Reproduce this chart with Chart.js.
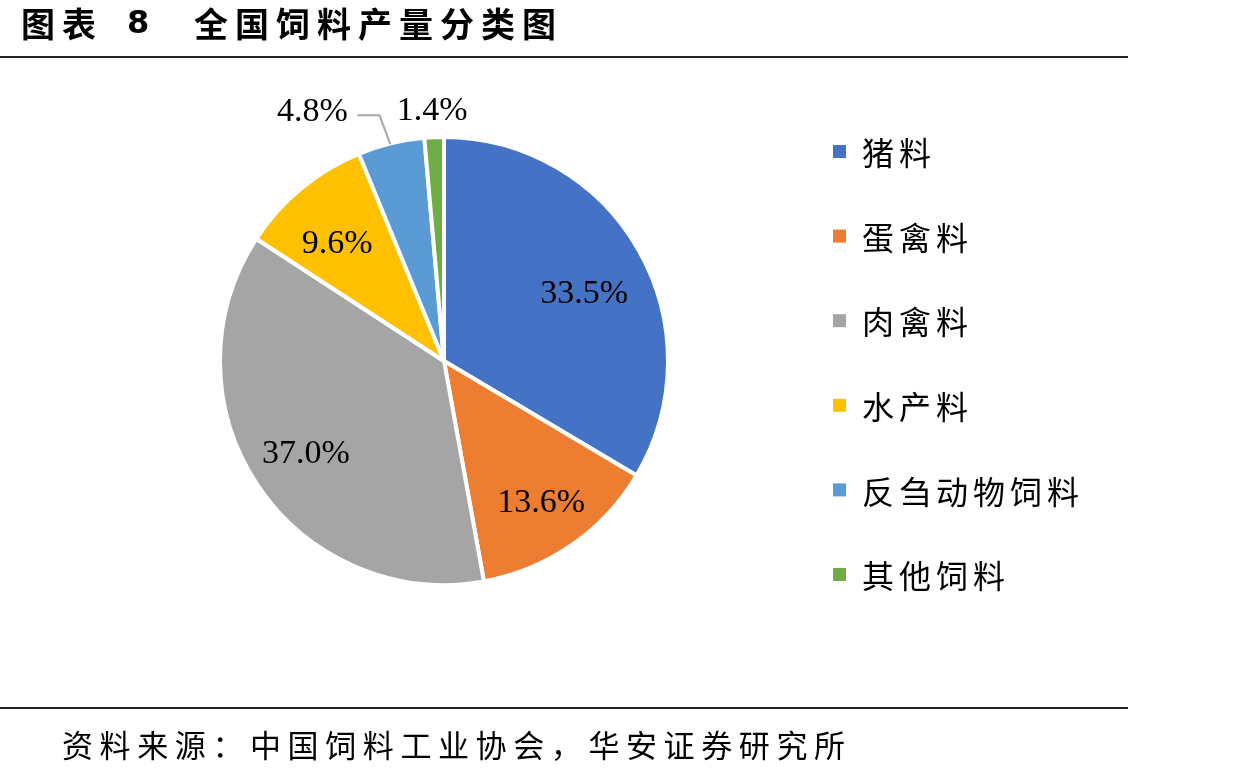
<!DOCTYPE html>
<html><head><meta charset="utf-8">
<script src="https://cdn.jsdelivr.net/npm/chart.js@4"></script>
<style>html,body{margin:0;padding:0;background:#fff;overflow:hidden}</style>
</head><body>
<canvas id="c" width="1237" height="775"></canvas>
<script>
const titleNo = '图表';
const titleNum = '8';
const titleText = '全国饲料产量分类图';
const sourceText = '资料来源：中国饲料工业协会，华安证券研究所';
const categories = ['猪料','蛋禽料','肉禽料','水产料','反刍动物饲料','其他饲料'];
const shares = [33.5, 13.6, 37.0, 9.6, 4.8, 1.4];
const percentLabels = ['33.5%','13.6%','37.0%','9.6%','4.8%','1.4%'];
const colors = ['#4472C4','#ED7D31','#A5A5A5','#FFC000','#5B9BD5','#70AD47'];

// label placement styles (inside: fraction of radius + nudge; outside: offset from arc edge)
const labelStyle = [
  {mode:'in', f:0.70, dx:4, dy:11},
  {mode:'in', f:0.76, dx:0, dy:2},
  {mode:'in', f:0.74, dx:0, dy:1},
  {mode:'in', f:0.72, dx:-4, dy:7},
  {mode:'out', dx:-79, dy:-33, leader:true},
  {mode:'out', dx:-2, dy:-28}
];

const decor = {
  id:'decor',
  afterDraw(chart){
    const ctx = chart.ctx;
    ctx.save();
    // title
    ctx.fillStyle = '#000';
    ctx.textBaseline = 'middle';
    ctx.font = 'bold 34px "Noto Sans CJK SC"';
    ctx.letterSpacing = '7px';
    ctx.fillText(titleNo, 21, 24);
    ctx.fillText(titleText, 194, 24);
    ctx.letterSpacing = '0px';
    ctx.font = 'bold 32px "DejaVu Sans"';
    ctx.fillText(titleNum, 127, 25);
    // rules
    ctx.fillStyle = '#222';
    ctx.fillRect(0, 56, 1128, 2);
    ctx.fillRect(0, 707, 1128, 2);
    // source
    ctx.fillStyle = '#000';
    ctx.font = '31px "Noto Sans CJK SC"';
    ctx.letterSpacing = '6.6px';
    ctx.fillText(sourceText, 62, 745);
    // legend
    ctx.font = '32px "Noto Sans CJK SC"';
    ctx.letterSpacing = '5px';
    categories.forEach((c,i)=>{
      const y = 152 + i*84.6;
      ctx.fillStyle = colors[i];
      ctx.fillRect(833, y-7, 13, 13);
      ctx.fillStyle = '#000';
      ctx.fillText(c, 862, y+1);
    });
    ctx.letterSpacing = '0px';
    // data labels
    const meta = chart.getDatasetMeta(0);
    ctx.font = '34px "Liberation Serif"';
    ctx.textAlign = 'center';
    ctx.fillStyle = '#000';
    meta.data.forEach((arc,i)=>{
      const p = arc.getProps(['x','y','startAngle','endAngle','outerRadius'], true);
      const mid = (p.startAngle + p.endAngle)/2;
      const st = labelStyle[i];
      if (st.mode === 'in'){
        const r = p.outerRadius*st.f;
        ctx.fillText(percentLabels[i], p.x + Math.cos(mid)*r + st.dx, p.y + Math.sin(mid)*r + st.dy);
      } else {
        const ax = p.x + Math.cos(mid)*(p.outerRadius-2);
        const ay = p.y + Math.sin(mid)*(p.outerRadius-2);
        const lx = ax + st.dx, ly = ay + st.dy;
        ctx.fillText(percentLabels[i], lx, ly);
        if (st.leader){
          ctx.strokeStyle = '#A6A6A6';
          ctx.lineWidth = 2;
          ctx.beginPath();
          ctx.moveTo(ax-1, ay-1);
          ctx.lineTo(ax-12, ly+3);
          ctx.lineTo(lx+45, ly+3);
          ctx.stroke();
        }
      }
    });
    ctx.restore();
  }
};

new Chart(document.getElementById('c'), {
  type:'pie',
  data:{
    labels:categories,
    datasets:[{data:shares, backgroundColor:colors, borderColor:'#fff', borderWidth:4}]
  },
  options:{
    responsive:false,
    animation:false,
    layout:{padding:{left:218, top:135, right:567, bottom:188}},
    plugins:{legend:{display:false}, tooltip:{enabled:false}}
  },
  plugins:[decor]
});
</script>
</body></html>
